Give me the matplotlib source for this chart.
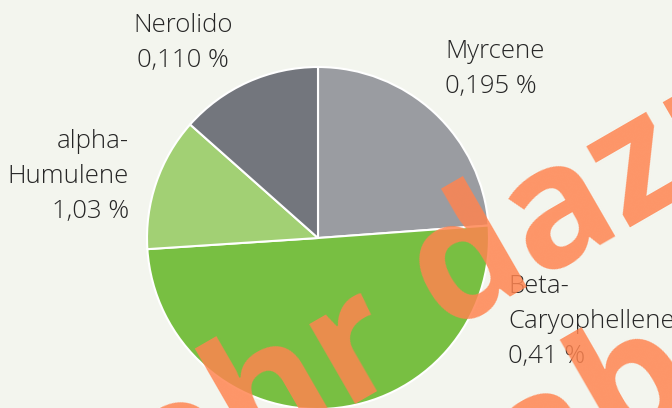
import matplotlib.pyplot as plt

# terpene shares (pie uses the shares, labels show the printed text)
names = [["Myrcene"], ["Beta-", "Caryophellene"], ["alpha-", "Humulene"], ["Nerolido"]]
shares = [0.195, 0.41, 0.103, 0.110]
value_text = ["0,195 %", "0,41 %", "1,03 %", "0,110 %"]
colors = ["#9a9ca1", "#78bf42", "#a2d074", "#73767d"]

# watermark words and their baseline starts (pixels from top-left)
wm_words = ["mehr", "dazu", "ab"]
wm_starts = [(16, 592), (444, 330), (524, 504)]

W, H = 672, 408
fig = plt.figure(figsize=(W / 100, H / 100), dpi=100)
fig.patch.set_facecolor("#f3f5ee")
ax = fig.add_axes([0, 0, 1, 1])

ax.pie(shares, colors=colors, startangle=90, counterclock=False,
       center=(318, H - 238), radius=171, frame=True,
       wedgeprops=dict(edgecolor="white", linewidth=1.5))
ax.set_xlim(0, W)
ax.set_ylim(0, H)
ax.set_aspect("equal")
ax.axis("off")

font = dict(family="Open Sans", fontsize=18.5, color="#262626", weight="light")
# label anchors: x, first baseline (pixels from top), alignment
spots = [(445, 58, "left"), (508, 293, "left"), (129, 148, "right"), (183, 32, "center")]
for lines, val, (x, y, ha) in zip(names, value_text, spots):
    for i, s in enumerate(lines + [val]):
        ax.text(x, H - (y + 35 * i), s, ha=ha, va="baseline", **font)

wm = dict(family="Open Sans", weight="bold", fontsize=122, color="#ff8450",
          alpha=0.85, rotation=30, rotation_mode="anchor", va="baseline", ha="left")
for word, (x, y) in zip(wm_words, wm_starts):
    ax.text(x, H - y, word, **wm)

fig.savefig("out.png", dpi=100, facecolor=fig.get_facecolor())
